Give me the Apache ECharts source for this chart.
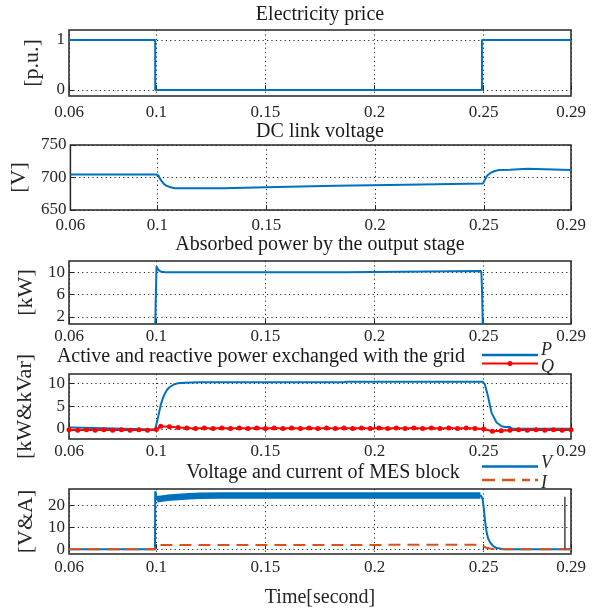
<!DOCTYPE html>
<html><head><meta charset="utf-8">
<script src="https://cdn.jsdelivr.net/npm/echarts@6/dist/echarts.min.js"></script>
<style>html,body{margin:0;padding:0;background:#fff}#c{width:603px;height:609px}</style>
</head><body><div id="c"></div>
<script>
// ---------- data ----------
const xTicks = [0.06, 0.1, 0.15, 0.2, 0.25, 0.29];
const titles = ['Electricity price', 'DC link voltage', 'Absorbed power by the output stage',
  'Active and reactive power exchanged with the grid', 'Voltage and current of MES block'];
const yNames = ['[p.u.]', '[V]', '[kW]', '[kW&kVar]', '[V&A]'];
const legendNames = ['P', 'Q', 'V', 'I'];
const yTicks1 = [0, 1];
const yTicks2 = [650, 700, 750];
const yTicks3 = [2, 6, 10];
const yTicks4 = [0, 5, 10];
const yTicks5 = [0, 10, 20];
const yLimits = [[-0.12, 1.2], [650, 750], [0.7, 12], [-2.2, 12], [-2.2, 27.5]];
const xLabel = 'Time[second]';

const price = [[0.06,1],[0.0995,1],[0.0995,0],[0.2492,0],[0.2492,1],[0.29,1]];

const dcLink = [[0.06,704.5],[0.0995,704.5],[0.1005,703],[0.101,699],[0.102,694],[0.103,690],[0.104,687.5],
  [0.106,685],[0.108,683.5],[0.13,683.5],[0.1303,685.5],[0.155,685.5],[0.1553,687.2],[0.182,687.2],[0.1823,688.8],
  [0.214,688.8],[0.2143,690.6],[0.2495,690.6],[0.2505,697],[0.2515,703],[0.253,707],[0.255,710],[0.257,711.5],
  [0.262,711.8],[0.2623,713.6],[0.27,713.6],[0.2703,711.5],[0.29,711.5]];

const absPower = [[0.06,0],[0.0993,0],[0.0995,0.5],[0.0998,6],[0.1001,11],[0.1005,10.8],[0.101,10.4],[0.102,10.1],
  [0.104,10.0],[0.1865,10.0],[0.187,10.2],[0.2488,10.2],[0.249,9.5],[0.2492,7],[0.2494,4],[0.2496,0],[0.29,0]];

const gridP = [[0.06,0.3],[0.0615,0.3],[0.062,-0.1],[0.0995,-0.1],[0.1,0],[0.101,3],[0.102,5.2],[0.103,6.7],
  [0.104,7.8],[0.105,8.6],[0.106,9.1],[0.108,9.7],[0.110,10.0],[0.113,10.1],[0.12,10.2],[0.186,10.2],[0.187,10.3],
  [0.2495,10.3],[0.2505,9.8],[0.252,7.1],[0.2536,3.5],[0.2559,1.4],[0.2582,0.6],[0.26,0.4],[0.262,0.4],[0.263,0.1],[0.29,0.05]];

const gridQ = [[0.060,-0.2],[0.064,-0.3],[0.068,-0.2],[0.072,-0.3],[0.076,-0.2],[0.080,-0.3],[0.084,-0.2],[0.088,-0.3],
  [0.092,-0.2],[0.096,-0.3],[0.100,-0.1],[0.102,0.6],[0.106,0.5],[0.110,0.3],[0.114,0.2],[0.118,0.1],[0.122,0.2],
  [0.126,0.1],[0.130,0.2],[0.134,0.1],[0.138,0.2],[0.142,0.1],[0.146,0.2],[0.150,0.1],[0.154,0.2],[0.158,0.1],
  [0.162,0.2],[0.166,0.1],[0.170,0.2],[0.174,0.1],[0.178,0.2],[0.182,0.1],[0.186,0.2],[0.190,0.1],[0.194,0.2],
  [0.198,0.1],[0.202,0.2],[0.206,0.1],[0.210,0.2],[0.214,0.1],[0.218,0.2],[0.222,0.1],[0.226,0.2],[0.230,0.1],
  [0.234,0.2],[0.238,0.1],[0.242,0.2],[0.246,0.1],[0.250,0.0],[0.254,-0.5],[0.258,-0.4],[0.262,-0.3],[0.266,-0.2],
  [0.270,-0.3],[0.274,-0.2],[0.278,-0.3],[0.282,-0.2],[0.286,-0.3],[0.290,-0.2]];

const mesV = [[0.06,0],[0.0994,0],[0.0995,26.5],[0.0998,25.5],[0.1002,22.6],[0.105,23.3],[0.11,23.8],[0.115,24.2],
  [0.12,24.4],[0.2488,24.4],[0.2492,24.6],[0.2495,23],[0.2500,19],[0.2505,14],[0.2510,10],[0.2515,7],[0.2520,5],
  [0.2530,3],[0.2540,1.8],[0.2550,1],[0.2560,0.5],[0.2580,0.2],[0.2600,0],[0.29,0]];
// centre of the V ripple band
const vRipple = [[0.1003,22.8],[0.105,23.45],[0.11,23.85],[0.115,24.15],[0.12,24.4],[0.13,24.5],[0.2485,24.5]];

const mesI = [[0.06,0],[0.0995,0],[0.0998,1.9],[0.1,2],[0.249,2],[0.2492,1.6],[0.2495,1.2],[0.251,0.7],[0.253,0.3],[0.255,0],[0.29,0]];

const mesMark = [[0.2872,0],[0.2872,24]];

// ---------- layout / style ----------
const FONT = "'Liberation Serif','Times New Roman',serif";
const INK = '#262626';
const BLUE = '#0072BD', RED = '#FF0000', ORANGE = '#D95319';
const gridTops = [30, 145, 261, 374, 489];
const gridHeights = [66, 65, 63, 65, 65];
const labelMargins = [8, 7, 4, 4, 5];
const titleCenters = [[320, 15], [320, 131.5], [320, 245], [261, 356.5], [323, 473]];
const nameGaps = [26, 26, 26, 33, 30];
const yTickSets = [yTicks1, yTicks2, yTicks3, yTicks4, yTicks5];
const dotted = { color: INK, width: 1, type: [1.2, 3.2] };

const grid = gridTops.map((t, i) => ({
  left: 69, width: 502, top: t, height: gridHeights[i],
  show: true, borderColor: INK, borderWidth: 1.5, backgroundColor: 'rgba(0,0,0,0)'
}));

const xAxis = gridTops.map((t, i) => ({
  type: 'value', gridIndex: i, min: 0.06, max: 0.29,
  axisLine: { show: false },
  axisTick: { show: true, inside: true, length: 5, customValues: xTicks, lineStyle: { color: INK } },
  axisLabel: { customValues: xTicks, formatter: v => String(+(+v).toFixed(2)), fontFamily: FONT, fontSize: 17, color: INK, margin: labelMargins[i] },
  splitLine: { show: true, lineStyle: dotted },
  name: i === 4 ? xLabel : '', nameLocation: 'middle', nameGap: 34,
  nameTextStyle: { fontFamily: FONT, fontSize: 20, color: INK }
}));

const yAxis = gridTops.map((t, i) => ({
  type: 'value', gridIndex: i, min: yLimits[i][0], max: yLimits[i][1],
  axisLine: { show: false },
  axisTick: { show: true, inside: true, length: 5, customValues: yTickSets[i], lineStyle: { color: INK } },
  axisLabel: { customValues: yTickSets[i], fontFamily: FONT, fontSize: 17, color: INK, margin: 4 },
  splitLine: { show: true, lineStyle: dotted },
  name: yNames[i], nameLocation: 'middle', nameGap: nameGaps[i],
  nameTextStyle: { fontFamily: FONT, fontSize: 22, color: INK }
}));

const title = titles.map((txt, i) => ({
  text: txt, left: titleCenters[i][0], top: titleCenters[i][1] - 10, textAlign: 'center', padding: 0,
  textStyle: { fontFamily: FONT, fontSize: 20, fontWeight: 'normal', color: '#1a1a1a' }
}));

function line(name, data, gi, color, extra) {
  return Object.assign({
    type: 'line', name: name, data: data, xAxisIndex: gi, yAxisIndex: gi,
    symbol: 'none', clip: true, animation: false,
    lineStyle: { color: color, width: 2 }, itemStyle: { color: color }
  }, extra || {});
}

const series = [
  line('price', price, 0, BLUE),
  line('dc', dcLink, 1, BLUE),
  line('abs', absPower, 2, BLUE),
  line(legendNames[0], gridP, 3, BLUE),
  line(legendNames[1], gridQ, 3, RED, { symbol: 'circle', symbolSize: 5, showSymbol: true, showAllSymbol: true }),
  line('Vripple', vRipple, 4, BLUE, { lineStyle: { color: BLUE, width: 6.5 } }),
  line(legendNames[2], mesV, 4, BLUE, { lineStyle: { color: BLUE, width: 2 } }),
  line(legendNames[3], mesI, 4, ORANGE, { lineStyle: { color: ORANGE, width: 2, type: [12, 7] } }),
  line('mark', mesMark, 4, '#444', { lineStyle: { color: '#444', width: 1.5 } })
];

const iconLine = 'path://M0,0h56v2.5h-56z';
const iconDot = 'path://M0,4h56v2h-56z M25.5,5a2.5,2.5 0 1,1 5,0a2.5,2.5 0 1,1 -5,0z';
const iconDash = 'path://M0,0h13v2.5h-13z M20,0h13v2.5h-13z M40,0h8v2.5h-8z M53,0h3v2.5h-3z';
const legendIcons = [iconLine, iconDot, iconLine, iconDash];
const legendColors = [BLUE, RED, BLUE, ORANGE];
const legendLineY = [355, 363.5, 466.5, 480];
const legendTextPos = [[541, 350], [541, 367.5], [541, 463], [541, 483]];

// legend symbols (text drawn separately so it can sit above / below its line like the original)
const legend = legendNames.map((n, k) => ({
  orient: 'vertical', left: 482, top: legendLineY[k] - 5, itemWidth: 56, itemHeight: 10, itemGap: 0, padding: 0,
  selectedMode: false, formatter: () => '', textStyle: { fontSize: 8 },
  data: [{ name: n, icon: legendIcons[k], itemStyle: { color: legendColors[k] } }]
}));
const graphic = legendNames.map((n, k) => ({
  type: 'text', x: legendTextPos[k][0], y: legendTextPos[k][1], silent: true,
  style: { text: n, fill: INK, font: "italic 18px 'Liberation Serif','Times New Roman',serif", textVerticalAlign: 'middle', verticalAlign: 'middle', align: 'left' }
}));

const chart = echarts.init(document.getElementById('c'));
chart.setOption({ animation: false, backgroundColor: '#fff', title, grid, xAxis, yAxis, legend, graphic, series });
</script>
</body></html>
